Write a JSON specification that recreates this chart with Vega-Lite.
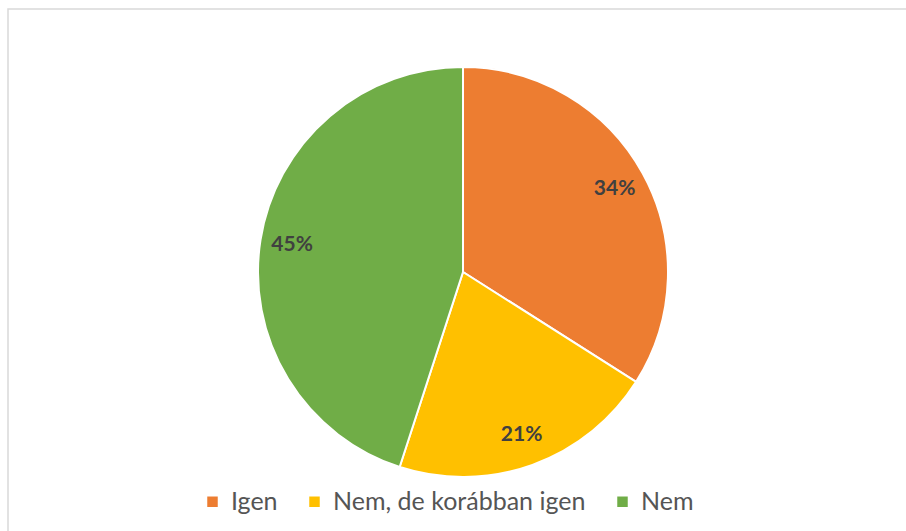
{
  "$schema": "https://vega.github.io/schema/vega-lite/v6.json",
  "width": 910,
  "height": 526,
  "autosize": "none",
  "padding": {"left": 8, "top": 9, "right": 0, "bottom": 0},
  "background": "white",
  "config": {
    "view": {"stroke": null},
    "font": "Lato"
  },
  "data": {
    "values": [
      {"category": "Igen", "value": 34, "label": "34%", "order": 1},
      {"category": "Nem, de korábban igen", "value": 21, "label": "21%", "order": 2},
      {"category": "Nem", "value": 45, "label": "45%", "order": 3}
    ]
  },
  "layer": [
    {
      "data": {"values": [{"frame": 1}]},
      "mark": {"type": "rect", "fill": null, "stroke": "#d9d9d9", "strokeWidth": 1.5},
      "encoding": {}
    },
    {
      "mark": {"type": "arc", "outerRadius": 205, "stroke": "white", "strokeWidth": 2},
      "encoding": {
        "theta": {"field": "value", "type": "quantitative", "stack": true},
        "order": {"field": "order", "type": "quantitative"},
        "color": {
          "field": "category",
          "type": "nominal",
          "sort": ["Igen", "Nem, de korábban igen", "Nem"],
          "scale": {"domain": ["Igen", "Nem, de korábban igen", "Nem"], "range": ["#ED7D31", "#FFC000", "#70AD47"]},
          "legend": {
            "title": null,
            "orient": "none",
            "direction": "horizontal",
            "legendX": 192,
            "legendY": 480,
            "symbolType": "square",
            "symbolSize": 110,
            "symbolStrokeWidth": 0,
            "labelFontSize": 25,
            "labelColor": "#555555",
            "labelFont": "Lato",
            "labelLimit": 400,
            "columnPadding": 24,
            "labelOffset": 6
          }
        }
      }
    },
    {
      "mark": {"type": "text", "radius": 173, "fontSize": 21, "fontWeight": "bold", "color": "#404040", "font": "Lato"},
      "encoding": {
        "theta": {"field": "value", "type": "quantitative", "stack": true},
        "order": {"field": "order", "type": "quantitative"},
        "text": {"field": "label", "type": "nominal"}
      }
    }
  ]
}
